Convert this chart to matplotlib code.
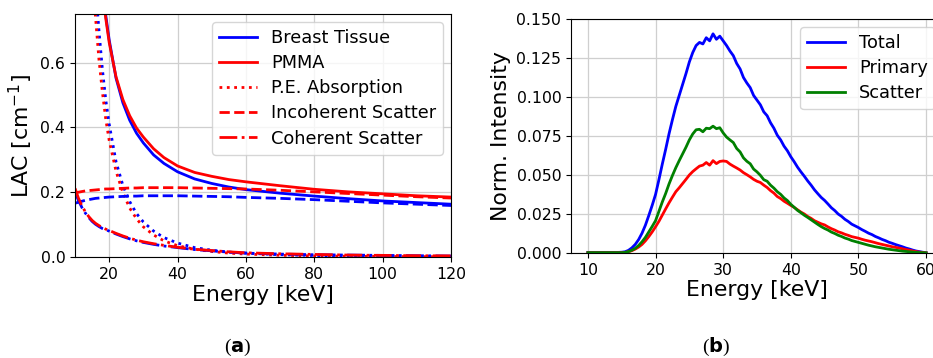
import matplotlib
matplotlib.use("Agg")
import matplotlib.pyplot as plt

# ---------------- Panel (a): linear attenuation coefficients ----------------
energy_a = [10, 11, 12, 13, 14, 15, 16, 17, 18, 19, 20, 22, 24, 26, 28, 30, 33, 36,
            40, 45, 50, 55, 60, 70, 80, 90, 100, 110, 120]

breast_total = [3.97, 2.99, 2.33, 1.86, 1.55, 1.29, 1.10, 0.956, 0.836, 0.745, 0.670,
                0.552, 0.476, 0.422, 0.382, 0.352, 0.315, 0.289, 0.263, 0.241, 0.227,
                0.216, 0.208, 0.197, 0.188, 0.180, 0.173, 0.168, 0.163]
breast_pe = [3.7, 2.75, 2.1, 1.6, 1.28, 1.02, 0.84, 0.70, 0.58, 0.485, 0.41, 0.294,
             0.221, 0.171, 0.134, 0.108, 0.080, 0.060, 0.043, 0.029, 0.021, 0.015,
             0.012, 0.007, 0.0046, 0.0032, 0.0023, 0.0017, 0.0013]
breast_incoh = [0.166, 0.169, 0.172, 0.175, 0.177, 0.179, 0.181, 0.182, 0.183, 0.184,
                0.185, 0.186, 0.187, 0.188, 0.188, 0.189, 0.189, 0.189, 0.189, 0.188,
                0.187, 0.186, 0.184, 0.181, 0.177, 0.172, 0.167, 0.163, 0.159]
breast_coh = [0.200, 0.175, 0.153, 0.136, 0.122, 0.110, 0.101, 0.094, 0.088, 0.084,
              0.080, 0.071, 0.063, 0.056, 0.050, 0.045, 0.039, 0.034, 0.029, 0.023,
              0.019, 0.015, 0.012, 0.009, 0.007, 0.006, 0.005, 0.004, 0.003]

pmma_total = [4.11, 3.18, 2.41, 1.89, 1.53, 1.27, 1.09, 0.945, 0.83, 0.736, 0.662,
              0.556, 0.486, 0.436, 0.398, 0.370, 0.334, 0.307, 0.281, 0.261, 0.249,
              0.239, 0.232, 0.220, 0.209, 0.201, 0.195, 0.189, 0.185]
pmma_pe = [3.5, 2.6, 1.95, 1.48, 1.14, 0.90, 0.74, 0.61, 0.51, 0.425, 0.36, 0.265,
           0.199, 0.151, 0.118, 0.093, 0.068, 0.050, 0.035, 0.024, 0.017, 0.012,
           0.009, 0.0053, 0.0034, 0.0023, 0.0016, 0.0011, 0.0009]
pmma_incoh = [0.198, 0.200, 0.202, 0.204, 0.205, 0.206, 0.207, 0.208, 0.209, 0.210,
              0.210, 0.211, 0.212, 0.213, 0.213, 0.214, 0.214, 0.214, 0.214, 0.213,
              0.212, 0.211, 0.210, 0.206, 0.201, 0.196, 0.191, 0.186, 0.182]
pmma_coh = [0.212, 0.182, 0.158, 0.140, 0.125, 0.113, 0.104, 0.097, 0.091, 0.086,
            0.082, 0.073, 0.065, 0.058, 0.052, 0.047, 0.041, 0.036, 0.030, 0.024,
            0.020, 0.016, 0.013, 0.010, 0.008, 0.006, 0.005, 0.004, 0.0035]

xticks_a = [20, 40, 60, 80, 100, 120]
yticks_a = [0.0, 0.2, 0.4, 0.6]

# ---------------- Panel (b): spectra ----------------
energy_b = [10.0, 10.5, 11.0, 11.5, 12.0, 12.5, 13.0, 13.5, 14.0, 14.5,
            15.0, 15.5, 16.0, 16.5, 17.0, 17.5, 18.0, 18.5, 19.0, 19.5,
            20.0, 20.5, 21.0, 21.5, 22.0, 22.5, 23.0, 23.5, 24.0, 24.5,
            25.0, 25.5, 26.0, 26.5, 27.0, 27.5, 28.0, 28.5, 29.0, 29.5,
            30.0, 30.5, 31.0, 31.5, 32.0, 32.5, 33.0, 33.5, 34.0, 34.5,
            35.0, 35.5, 36.0, 36.5, 37.0, 37.5, 38.0, 38.5, 39.0, 39.5,
            40.0, 40.5, 41.0, 41.5, 42.0, 42.5, 43.0, 43.5, 44.0, 44.5,
            45.0, 45.5, 46.0, 46.5, 47.0, 47.5, 48.0, 48.5, 49.0, 49.5,
            50.0, 50.5, 51.0, 51.5, 52.0, 52.5, 53.0, 53.5, 54.0, 54.5,
            55.0, 55.5, 56.0, 56.5, 57.0, 57.5, 58.0, 58.5, 59.0, 59.5, 60.0]

total = [0.0004, 0.0004, 0.0004, 0.0004, 0.0004, 0.0004, 0.0004, 0.0004, 0.0004, 0.0004,
         0.0005, 0.0008, 0.0017, 0.0033, 0.0055, 0.0086, 0.0127, 0.0178, 0.0240, 0.0305,
         0.0375, 0.0470, 0.0570, 0.0665, 0.0765, 0.0855, 0.0940, 0.1010, 0.1080, 0.1150,
         0.1225, 0.1285, 0.1330, 0.1350, 0.1340, 0.1380, 0.1360, 0.1405, 0.1370, 0.1390,
         0.1360, 0.1330, 0.1295, 0.1265, 0.1215, 0.1180, 0.1125, 0.1090, 0.1060, 0.1010,
         0.0980, 0.0950, 0.0905, 0.0880, 0.0835, 0.0800, 0.0755, 0.0725, 0.0685, 0.0655,
         0.0617, 0.0585, 0.0550, 0.0520, 0.0492, 0.0462, 0.0435, 0.0405, 0.0380, 0.0356,
         0.0337, 0.0314, 0.0290, 0.0272, 0.0250, 0.0235, 0.0216, 0.0202, 0.0185, 0.0174,
         0.0163, 0.0150, 0.0139, 0.0127, 0.0118, 0.0106, 0.0097, 0.0087, 0.0079, 0.0069,
         0.0062, 0.0054, 0.0047, 0.0040, 0.0032, 0.0026, 0.0019, 0.0013, 0.0009, 0.0005, 0.0002]

primary = [0.0002, 0.0002, 0.0002, 0.0002, 0.0002, 0.0002, 0.0002, 0.0002, 0.0002, 0.0002,
           0.0002, 0.0004, 0.0008, 0.0015, 0.0025, 0.0038, 0.0055, 0.0078, 0.0105, 0.0135,
           0.0168, 0.0203, 0.0243, 0.0283, 0.0322, 0.0358, 0.0393, 0.0418, 0.0445, 0.0472,
           0.0500, 0.0522, 0.0540, 0.0557, 0.0563, 0.0580, 0.0563, 0.0592, 0.0573, 0.0587,
           0.0590, 0.0587, 0.0570, 0.0557, 0.0545, 0.0532, 0.0515, 0.0502, 0.0488, 0.0472,
           0.0460, 0.0452, 0.0435, 0.0420, 0.0400, 0.0384, 0.0362, 0.0349, 0.0332, 0.0319,
           0.0305, 0.0292, 0.0277, 0.0262, 0.0250, 0.0234, 0.0222, 0.0207, 0.0197, 0.0187,
           0.0180, 0.0167, 0.0156, 0.0147, 0.0136, 0.0129, 0.0120, 0.0113, 0.0105, 0.0100,
           0.0095, 0.0088, 0.0082, 0.0077, 0.0072, 0.0066, 0.0060, 0.0055, 0.0050, 0.0045,
           0.0040, 0.0036, 0.0032, 0.0027, 0.0022, 0.0018, 0.0013, 0.0009, 0.0006, 0.0003, 0.0001]

scatter = [0.0002, 0.0002, 0.0002, 0.0002, 0.0002, 0.0002, 0.0002, 0.0002, 0.0002, 0.0002,
           0.0002, 0.0004, 0.0009, 0.0018, 0.0030, 0.0048, 0.0072, 0.0100, 0.0135, 0.0170,
           0.0207, 0.0267, 0.0327, 0.0382, 0.0443, 0.0497, 0.0547, 0.0592, 0.0635, 0.0678,
           0.0725, 0.0763, 0.0790, 0.0793, 0.0777, 0.0800, 0.0797, 0.0813, 0.0797, 0.0803,
           0.0770, 0.0743, 0.0725, 0.0708, 0.0670, 0.0648, 0.0610, 0.0588, 0.0572, 0.0538,
           0.0520, 0.0498, 0.0470, 0.0460, 0.0435, 0.0416, 0.0393, 0.0376, 0.0353, 0.0336,
           0.0312, 0.0293, 0.0273, 0.0258, 0.0242, 0.0228, 0.0213, 0.0198, 0.0183, 0.0169,
           0.0157, 0.0147, 0.0134, 0.0125, 0.0114, 0.0106, 0.0096, 0.0089, 0.0080, 0.0074,
           0.0068, 0.0062, 0.0056, 0.0050, 0.0045, 0.0040, 0.0036, 0.0032, 0.0028, 0.0024,
           0.0021, 0.0018, 0.0015, 0.0012, 0.0010, 0.0008, 0.0006, 0.0004, 0.0003, 0.0002, 0.0001]

xticks_b = [10, 20, 30, 40, 50, 60]
yticks_b = [0.000, 0.025, 0.050, 0.075, 0.100, 0.125, 0.150]

# ---------------- Figure ----------------
plt.rcParams['font.family'] = ['DejaVu Sans']
fig = plt.figure(figsize=(9.33, 3.58), dpi=100)

TICK_FS = 11.3
LABEL_FS = 15.8
LEG_FS = 12.8
LW = 2.0
grid_kw = dict(color='#cfcfcf', linewidth=0.9)

# Panel (a)
ax1 = fig.add_axes([0.0804, 0.2821, 0.4030, 0.6788])
ax1.plot(energy_a, breast_total, color='blue', lw=LW, label='Breast Tissue')
ax1.plot(energy_a, pmma_total, color='red', lw=LW, label='PMMA')
ax1.plot(energy_a, breast_pe, color='blue', lw=LW, ls=':')
ax1.plot(energy_a, pmma_pe, color='red', lw=LW, ls=':', label='P.E. Absorption')
ax1.plot(energy_a, breast_incoh, color='blue', lw=LW, ls='--')
ax1.plot(energy_a, pmma_incoh, color='red', lw=LW, ls='--', label='Incoherent Scatter')
ax1.plot(energy_a, breast_coh, color='blue', lw=LW, ls='-.')
ax1.plot(energy_a, pmma_coh, color='red', lw=LW, ls='-.', label='Coherent Scatter')
ax1.set_xlim(10, 120)
ax1.set_ylim(0, 0.75)
ax1.set_xticks(xticks_a)
ax1.set_yticks(yticks_a)
ax1.tick_params(labelsize=TICK_FS)
ax1.grid(True, **grid_kw)
ax1.set_axisbelow(True)
ax1.set_xlabel('Energy [keV]', fontsize=LABEL_FS, labelpad=2)
ax1.set_ylabel('LAC [cm$^{-1}$]', fontsize=LABEL_FS, labelpad=4)
ax1.legend(loc='upper right', fontsize=LEG_FS, handlelength=2.1,
           borderaxespad=0.45, labelspacing=0.4)

# Panel (b)
ax2 = fig.add_axes([0.6120, 0.2933, 0.3987, 0.6536])
ax2.plot(energy_b, total, color='blue', lw=LW, label='Total')
ax2.plot(energy_b, primary, color='red', lw=LW, label='Primary')
ax2.plot(energy_b, scatter, color='green', lw=LW, label='Scatter')
ax2.set_xlim(7.5, 62.5)
ax2.set_ylim(0, 0.15)
ax2.set_xticks(xticks_b)
ax2.set_yticks(yticks_b)
ax2.set_yticklabels([f'{v:.3f}' for v in yticks_b])
ax2.tick_params(labelsize=TICK_FS)
ax2.grid(True, **grid_kw)
ax2.set_axisbelow(True)
ax2.set_xlabel('Energy [keV]', fontsize=LABEL_FS, labelpad=2)
ax2.set_ylabel('Norm. Intensity', fontsize=LABEL_FS, labelpad=4)
ax2.legend(loc='upper right', fontsize=LEG_FS, handlelength=2.1,
           borderaxespad=0.45, labelspacing=0.4)

# Sub-figure captions
fig.text(238 / 933, 1 - 347 / 358, r'($\mathbf{a}$)', ha='center', va='center',
         fontsize=14, family='Liberation Serif')
fig.text(716 / 933, 1 - 347 / 358, r'($\mathbf{b}$)', ha='center', va='center',
         fontsize=14, family='Liberation Serif')

fig.savefig('out.png', dpi=100)
